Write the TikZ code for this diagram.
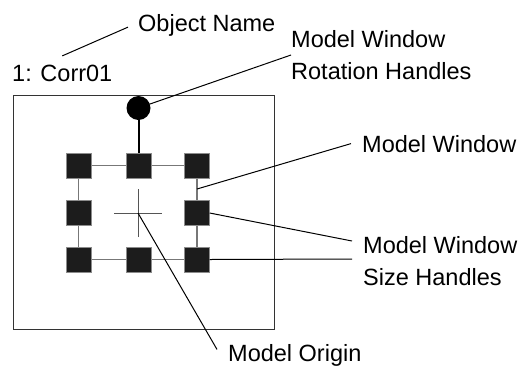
\documentclass[tikz,border=0pt]{standalone}
\usepackage{fontspec}
\setmainfont{Liberation Sans}
\usetikzlibrary{positioning}
\definecolor{handlegray}{HTML}{1C1C1C}
\definecolor{framegray}{HTML}{777777}
\definecolor{crossgray}{HTML}{555555}

\begin{document}
\begin{tikzpicture}[x=1pt, y=-1pt,
    lbl/.style={font=\fontsize{23.5}{32}\selectfont, inner sep=0pt, align=left},
    handle/.style={draw=black!45, fill=handlegray, minimum size=25pt, inner sep=0pt},
    leader/.style={draw=black, line width=1pt}]
  \useasboundingbox (0,0) rectangle (519,365);
  % object frame
  \draw[black!80, line width=1pt] (13,95) rectangle (274,329);
  % model window
  \draw[framegray, line width=1.5pt] (78.5,165.5) rectangle (197,259.5);
  \foreach \nm/\x/\y in {tl/78.5/165.5, tm/138.5/165.5, tr/197/165.5,
                         ml/78.5/213, mr/197/213,
                         bl/78.5/259.5, bm/138.5/259.5, br/197/259.5}
    \node[handle] (\nm) at (\x,\y) {};
  % rotation handle
  \node[circle, fill=black, minimum size=24pt, inner sep=0pt] (ball) at (138.5,108) {};
  \draw[line width=2pt] (ball) -- (tm);
  % origin
  \coordinate (origin) at (138,213);
  \draw[crossgray, line width=1pt] ([xshift=-24pt]origin) -- ([xshift=24pt]origin);
  \draw[crossgray, line width=1pt] ([yshift=-24pt]origin) -- ([yshift=24pt]origin);
  \coordinate (winedge) at (197,189);

  % labels
  \node[lbl, anchor=base west] (objname) at (138,31.5) {Object Name};
  \node[lbl, anchor=base west] (objid) at (12,81.5) {1: Corr01};
  \node[lbl, anchor=west] (rotlab) at (291,55) {Model Window\\Rotation Handles};
  \node[lbl, anchor=base west] (winlab) at (362,152) {Model Window};
  \node[lbl, anchor=west] (sizelab) at (363,261) {Model Window\\Size Handles};
  \node[lbl, anchor=base west] (originlab) at (228,361.5) {Model Origin};

  % leaders
  \draw[leader] ([yshift=9pt]objid.north) -- ([shift={(-10pt,-1.7pt)}]objname.west);
  \draw[leader] (ball) -- (rotlab.west);
  \draw[leader] (winedge) -- ([xshift=-11pt]winlab.west);
  \draw[leader] (mr.east) -- ([shift={(-11pt,20pt)}]sizelab.west);
  \draw[leader] (br.east) -- ([shift={(-11pt,2pt)}]sizelab.west);
  \draw[leader] (origin) -- ([shift={(-11pt,6pt)}]originlab.west);
\end{tikzpicture}
\end{document}
